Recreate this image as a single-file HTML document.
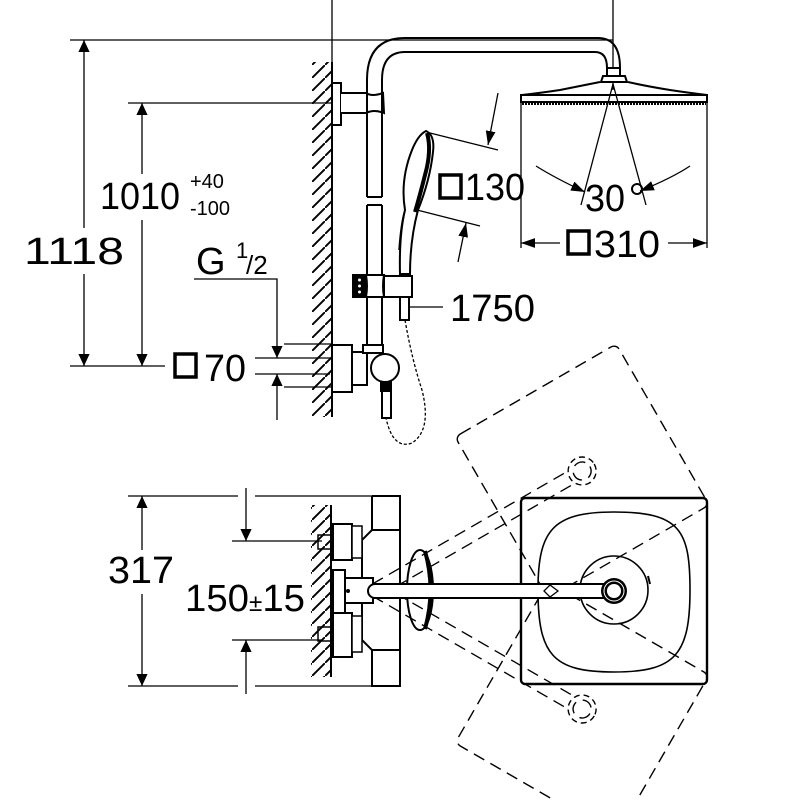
<!DOCTYPE html>
<html><head><meta charset="utf-8"><style>
html,body{margin:0;padding:0;background:#fff}
svg{display:block}
text{font-family:"Liberation Sans",Arial,sans-serif;fill:#000}
</style></head><body>
<svg width="800" height="800" viewBox="0 0 800 800" xmlns="http://www.w3.org/2000/svg">
<defs>
<marker id="a" viewBox="0 0 10 10" refX="10" refY="5" markerWidth="14" markerHeight="14" markerUnits="userSpaceOnUse" orient="auto"><path d="M0,1.5 L10,5 L0,8.5z" fill="#000"/></marker>
<marker id="b" viewBox="0 0 10 10" refX="10" refY="5" markerWidth="12" markerHeight="28" markerUnits="userSpaceOnUse" orient="auto" preserveAspectRatio="none"><path d="M0,3 L10,5 L0,7z" fill="#000"/></marker>
<pattern id="h" width="13" height="13" patternUnits="userSpaceOnUse"><path d="M-1,14 L14,-1" stroke="#000" stroke-width="1.9"/></pattern>
</defs>
<g fill="none" stroke="#000" stroke-width="1.3">
<line x1="332" y1="0" x2="332" y2="62"/>
<line x1="613" y1="0" x2="613" y2="90"/>
<line x1="70" y1="40" x2="613" y2="40"/>
<line x1="128" y1="103" x2="340" y2="103"/>
<line x1="70" y1="366" x2="165" y2="366"/>
<line x1="84" y1="228" x2="84" y2="40" marker-end="url(#b)"/>
<line x1="84" y1="274" x2="84" y2="366" marker-end="url(#b)"/>
<line x1="142" y1="174" x2="142" y2="103" marker-end="url(#b)"/>
<line x1="142" y1="220" x2="142" y2="366" marker-end="url(#b)"/>
<polyline points="194,279 277,279 277,358" marker-end="url(#b)"/>
<line x1="277" y1="420" x2="277" y2="374" marker-end="url(#b)"/>
<line x1="255" y1="358" x2="330" y2="358"/>
<line x1="255" y1="374" x2="330" y2="374"/>
<line x1="284" y1="344" x2="332" y2="344"/>
<line x1="284" y1="387" x2="332" y2="387"/>
<rect x="312" y="62" width="20" height="355" fill="url(#h)" stroke="none"/>
<line x1="332" y1="62" x2="332" y2="417" stroke-width="2"/>
<rect x="332" y="83" width="9" height="42" stroke-width="2" fill="#fff"/>
<path d="M341,93 L366,93 Q372,97 383,93 L384,113 Q374,109 366,113 L341,113" stroke-width="2" fill="#fff"/>
<path d="M367,197 L367,80 Q367,38 405,38 L598,38 Q620,38 620,68" stroke-width="2"/>
<path d="M382,197 L382,80 Q382,52 405,52 L595,52 Q607,52 607,68" stroke-width="2"/>
<line x1="367" y1="197" x2="382" y2="197" stroke-width="2"/>
<path d="M367,205 L382,205 M367,205 L367,345 M382,205 L382,345" stroke-width="2"/>
<rect x="607" y="68" width="13" height="8" stroke-width="2" fill="#fff"/>
<path d="M603,76 L625,76 L627,82 L601,82z" stroke-width="2" fill="#fff"/>
<path d="M600,82 Q580,86 560,90 Q540,93 522,95 L707,95 Q690,93 670,90 Q645,86 628,82" stroke-width="2"/>
<rect x="521" y="95" width="186" height="7" stroke-width="2" fill="#fff"/>
<line x1="522" y1="104" x2="706" y2="104" stroke-width="2" stroke-dasharray="2 1"/>
<line x1="521" y1="102" x2="521" y2="248"/>
<line x1="707" y1="102" x2="707" y2="248"/>
<line x1="613" y1="84" x2="581" y2="205"/>
<line x1="613" y1="84" x2="646" y2="205"/>
<path d="M536,166 Q555,178 585,192" marker-end="url(#a)"/>
<path d="M690,166 Q672,178 640,191" marker-end="url(#a)"/>
<line x1="560" y1="243" x2="521" y2="243" marker-end="url(#a)"/>
<line x1="668" y1="243" x2="707" y2="243" marker-end="url(#a)"/>
<line x1="426" y1="132" x2="498" y2="150"/>
<line x1="417" y1="210" x2="480" y2="226"/>
<line x1="498" y1="93" x2="488" y2="145" marker-end="url(#a)"/>
<line x1="458" y1="262" x2="466" y2="223" marker-end="url(#a)"/>
<path d="M400,274 Q399,235 405,210 Q400,180 412,150 Q418,135 426,131 Q435,135 433,152 Q430,180 418,210 Q410,240 410,274z" stroke-width="2" fill="#fff"/>
<path d="M427,133 Q432,150 425,175 Q420,195 415,212" stroke-width="4"/>
<path d="M405,210 Q401,222 399,250" stroke-width="1.5"/>
<rect x="353" y="275" width="13" height="22" fill="#000" stroke-width="2"/>
<circle cx="359.5" cy="280" r="1.5" fill="#fff" stroke="none"/><circle cx="359.5" cy="286" r="1.5" fill="#fff" stroke="none"/><circle cx="359.5" cy="292" r="1.5" fill="#fff" stroke="none"/>
<path d="M366,275 L384,275 Q382,286 384,297 L366,297 Q368,286 366,275z" stroke-width="2" fill="#fff"/>
<rect x="384" y="276" width="28" height="21" stroke-width="2" fill="#fff"/>
<rect x="400" y="297" width="9" height="23" stroke-width="2" fill="#fff"/>
<line x1="410" y1="307" x2="443" y2="307"/>
<rect x="332" y="345" width="20" height="47" stroke-width="2" fill="#fff"/>
<rect x="352" y="352" width="15" height="33" stroke-width="2" fill="#fff"/>
<rect x="363" y="345" width="20" height="8" stroke-width="2" fill="#fff"/>
<circle cx="385" cy="368" r="14" stroke-width="2" fill="#fff"/>
<rect x="381" y="382" width="10" height="9" stroke-width="2" fill="#000"/>
<rect x="382" y="391" width="9" height="27" stroke-width="2" fill="#fff"/>
<path d="M405,320 Q412,360 422,390 Q432,430 412,443 Q393,450 386,418" stroke-dasharray="3 2"/>
<line x1="128" y1="496" x2="238" y2="496"/>
<line x1="255" y1="496" x2="372" y2="496"/>
<line x1="128" y1="686" x2="238" y2="686"/>
<line x1="255" y1="686" x2="372" y2="686"/>
<line x1="142" y1="550" x2="142" y2="496" marker-end="url(#b)"/>
<line x1="142" y1="594" x2="142" y2="686" marker-end="url(#b)"/>
<line x1="246" y1="488" x2="246" y2="541" marker-end="url(#b)"/>
<line x1="246" y1="694" x2="246" y2="640" marker-end="url(#b)"/>
<line x1="232" y1="541" x2="322" y2="541"/>
<line x1="232" y1="640" x2="322" y2="640"/>
<rect x="311" y="505" width="20" height="172" fill="url(#h)" stroke="none"/>
<line x1="331" y1="505" x2="331" y2="677" stroke-width="2"/>
<path d="M372,496 L400,496 L400,530 L372,530 M372,496 L372,530 L362,540 L362,640 L372,650 L372,686 L400,686 L400,650 L372,650" stroke-width="2" fill="#fff"/>
<line x1="400" y1="530" x2="400" y2="650" stroke-width="2"/>
<rect x="333" y="524" width="19" height="36" stroke-width="2" fill="#fff"/>
<rect x="352" y="526" width="10" height="32" stroke-width="1.5" fill="#fff"/>
<rect x="333" y="613" width="19" height="44" stroke-width="2" fill="#fff"/>
<rect x="352" y="616" width="10" height="36" stroke-width="1.5" fill="#fff"/>
<rect x="333" y="570" width="12" height="43" stroke-width="2" fill="#fff"/>
<rect x="318" y="535" width="14" height="14" stroke-width="1.5"/>
<rect x="318" y="627" width="14" height="14" stroke-width="1.5"/>
<rect x="345" y="578" width="28" height="25" stroke-width="2" fill="#fff"/>
<circle cx="348" cy="591" r="2" fill="#000" stroke="none"/>
<ellipse cx="420" cy="590" rx="13" ry="40" stroke-width="2" fill="#fff"/>
<path d="M425,551 Q436,590 425,629" stroke-width="4"/>
<g stroke-dasharray="12 7" stroke-width="1.4">
<g transform="rotate(-30 376 590)"><rect x="521" y="497" width="186" height="186" rx="6"/><line x1="376" y1="583" x2="604" y2="583"/><line x1="376" y1="597" x2="604" y2="597"/><circle cx="614" cy="590" r="9"/><circle cx="614" cy="590" r="14" stroke-dasharray="6 4"/></g>
<g transform="rotate(30 376 590)"><rect x="521" y="497" width="186" height="186" rx="6"/><line x1="376" y1="583" x2="604" y2="583"/><line x1="376" y1="597" x2="604" y2="597"/><circle cx="614" cy="590" r="9"/><circle cx="614" cy="590" r="14" stroke-dasharray="6 4"/></g>
</g>
<rect x="521" y="498" width="186" height="186" rx="4" stroke-width="2.4"/>
<path d="M614,512 C680,512 690,530 690,590 C690,655 675,672 614,672 C553,672 538,655 538,590 C538,530 553,512 614,512z" stroke-width="1.6"/>
<circle cx="614" cy="590" r="34" stroke-width="1.6"/>
<line x1="648" y1="576" x2="650" y2="584" stroke-width="2"/>
<rect x="368" y="584" width="250" height="14" rx="7" stroke-width="2" fill="#fff"/>
<path d="M544,591 L550,585 L558,591 L550,597z" stroke-width="1.3"/>
<circle cx="614" cy="591" r="13" fill="#000" stroke="none"/>
<circle cx="614" cy="591" r="10" stroke="#fff" stroke-width="1"/>
<circle cx="614" cy="591" r="7" fill="#fff" stroke="none"/>
</g>
<g fill="none" stroke="#000" stroke-width="3.5">
<rect x="175" y="354" width="21" height="23"/>
<rect x="440" y="175" width="21" height="23"/>
<rect x="568" y="231" width="21" height="23"/>
</g>
<circle cx="637" cy="189" r="5" fill="none" stroke="#000" stroke-width="2"/>
<g font-size="38">
<text x="24" y="264" textLength="100" lengthAdjust="spacingAndGlyphs">1118</text>
<text x="100" y="209" textLength="80" lengthAdjust="spacingAndGlyphs">1010</text>
<text x="190" y="188" font-size="20">+40</text>
<text x="190" y="215" font-size="20">-100</text>
<text x="196" y="274">G</text>
<text x="236" y="258" font-size="22">1</text>
<text x="246" y="274" font-size="26">/2</text>
<text x="204" y="381" textLength="42" lengthAdjust="spacingAndGlyphs">70</text>
<text x="465" y="200" textLength="60" lengthAdjust="spacingAndGlyphs">130</text>
<text x="585" y="211" textLength="40" lengthAdjust="spacingAndGlyphs">30</text>
<text x="594" y="257" textLength="66" lengthAdjust="spacingAndGlyphs">310</text>
<text x="450" y="321" textLength="85" lengthAdjust="spacingAndGlyphs">1750</text>
<text x="108" y="583" textLength="66" lengthAdjust="spacingAndGlyphs">317</text>
<text x="185" y="611" textLength="120" lengthAdjust="spacingAndGlyphs">150<tspan font-size="24">±</tspan>15</text>
</g>
</svg>
</body></html>
